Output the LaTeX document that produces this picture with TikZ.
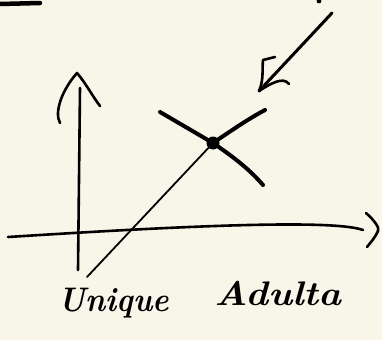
\documentclass[tikz,border=0pt]{standalone}
\usetikzlibrary{calc}
\definecolor{paper}{RGB}{248,245,233}
\tikzset{
    sketch/.style    = {x=1pt, y=-1pt},
    pen/.style       = {line width=2.6pt, line cap=round, line join=round},
    thin pen/.style  = {line width=1.8pt, line cap=round},
    heavy pen/.style = {line width=4pt, line cap=round},
    word/.style      = {font=\bfseries\itshape\fontsize{31}{33}\selectfont,
                        inner sep=0pt, anchor=base west, yscale=1.1},
    dot/.style       = {circle, fill, inner sep=0pt, minimum size=13pt}
}

\begin{document}
\begin{tikzpicture}[sketch]
% paper, fixing the 382x340 frame
\fill[paper] (0,0) rectangle (382,340);
\useasboundingbox (0,0) rectangle (382,340);

% axes
\coordinate (ybottom) at (78,270);
\coordinate (ytop)    at (80,88);
\coordinate (yapex)   at (77,73);
\coordinate (xleft)   at (8,237);
\coordinate (xright)  at (363,230);
\draw[pen] (ybottom) -- (ytop);
\draw[pen] (60,123) .. controls (54,112) and (62,90) .. (yapex)
  .. controls (85,82) and (93,97) .. (100,106);
\draw[pen] (xleft) .. controls (150,228) and (330,218) .. (xright);
\draw[pen] (366,213) .. controls (374,220) and (380,228) .. (378,231)
  .. controls (375,238) and (370,243) .. (367,247);

% supply line through the crossing, thin below and heavy above
\node[dot] (cross) at (213,143) {};
\coordinate (sbottom) at (87,277);
\coordinate (stop)    at (265,110);
\draw[thin pen] (sbottom) -- (cross.center);
\draw[heavy pen] (cross.center) .. controls (235,128) and (250,118) .. (stop);

% second line of the crossing
\coordinate (dtop)    at (160,112);
\coordinate (dbottom) at (263,185);
\draw[heavy pen] (dtop) -- (cross.center)
  .. controls (235,158) and (250,170) .. (dbottom);

% arrow pointing down to the crossing
\coordinate (atail) at (332,13);
\coordinate (ahead) at (259,91);
\draw[pen, line width=3pt] (atail) -- (ahead);
\draw[pen] (ahead) .. controls (264,80) and (262,68) .. (263,60) -- (275,57);
\draw[pen] (ahead) .. controls (270,84) and (283,76) .. (289,84);

% stray strokes at the top
\draw[heavy pen, line width=4.5pt] (0,4) -- (40,3);
\fill (319,1) circle (2.4pt);

% labels
\node[word] (unique) at (58,311) {Unique};
\node[word, xscale=1.25] (adulta) at (214,305) {Adulta};
\end{tikzpicture}
\end{document}
